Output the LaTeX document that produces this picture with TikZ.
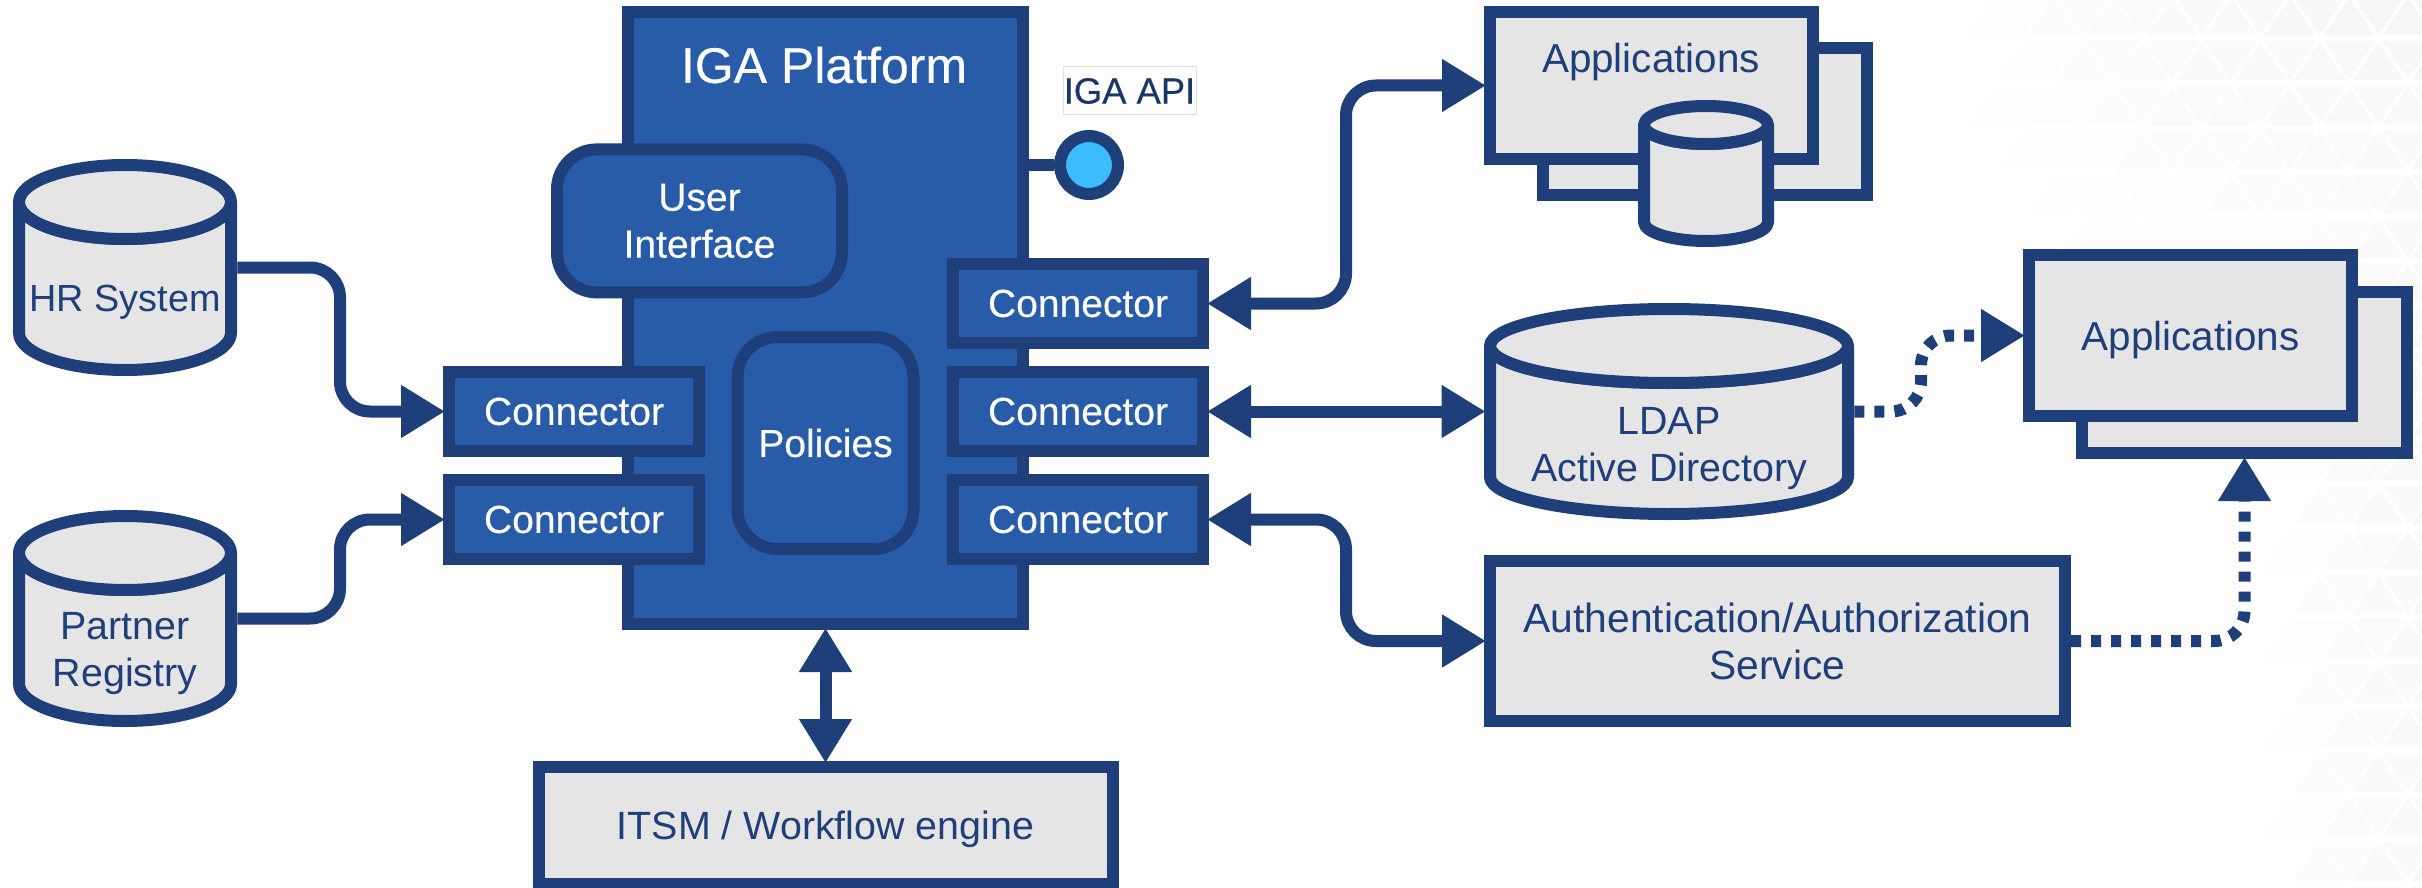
\documentclass[tikz,border=0pt]{standalone}
\usepackage{fontspec}
\setmainfont{Liberation Sans}
\newfontfamily\medfont[FakeBold=0.35]{Liberation Sans}
\usetikzlibrary{arrows.meta}
\definecolor{navy}{HTML}{1F3F7A}
\definecolor{royal}{HTML}{285CA8}
\definecolor{pale}{HTML}{E5E5E5}
\definecolor{sky}{HTML}{3DBBFF}
\newcommand{\txt}{\fontsize{19.7pt}{23.5pt}\selectfont}
\newcommand{\medtxt}{\medfont\fontsize{19.5pt}{23.5pt}\selectfont}
\tikzset{
  every node/.style={inner sep=0pt,align=center},
  greybox/.style={draw=navy,line width=6pt,fill=pale,text=navy,font=\txt},
  bluebox/.style={draw=navy,line width=6pt,fill=royal,text=white,font=\medtxt},
  connbox/.style={bluebox,minimum width=125pt,minimum height=39.5pt},
  softbox/.style={bluebox,rounded corners=20pt},
  link/.style={draw=navy,line width=6pt,rounded corners=15pt},
  tipto/.style={-{Triangle[length=22pt,width=25pt]},shorten >=-1pt},
  tipboth/.style={{Triangle[length=22pt,width=25pt]}-{Triangle[length=22pt,width=25pt]},shorten >=-1pt,shorten <=-1pt},
  dots/.style={dash pattern=on 5pt off 5pt},
  cylbody/.style={draw=navy,line width=6pt,fill=pale,line join=round},
  cyllabel/.style={text=navy,font=\txt}
}
% #1 name, #2 cx, #3 top y, #4 bottom y, #5 rx, #6 ry, #7 text y, #8 text
\newcommand{\cyl}[8]{%
  \draw[cylbody] (#2-#5,#3+#6) arc[start angle=180,end angle=360,x radius=#5*0.5pt,y radius=#6*0.5pt]
     -- (#2+#5,#4-#6) arc[start angle=0,end angle=-180,x radius=#5*0.5pt,y radius=#6*0.5pt] -- cycle;
  \draw[cylbody] (#2,#3+#6) ellipse[x radius=#5*0.5pt,y radius=#6*0.5pt];
  \node[minimum width=#5*1pt+6pt,minimum height=(#4-#3)*0.5pt+6pt] (#1) at (#2,#3*0.5+#4*0.5) {};
  \node[cyllabel] (#1t) at (#2,#7) {#8};
}
\begin{document}
\begin{tikzpicture}[x=0.5pt,y=-0.5pt]
\useasboundingbox (0,0) rectangle (2422,888);
\fill[white] (0,0) rectangle (2422,888);

% faint triangle texture of the background
\foreach \j in {0,...,20}{
  \pgfmathsetmacro\yy{-6.5+44.5*\j}
  \pgfmathsetmacro\off{mod(\j,2)*29.5}
  \foreach \i in {0,...,10}{
    \pgfmathsetmacro\ax{1877+59*\i+\off}
    \pgfmathsetmacro\lv{min(3.5,3.5*max((\ax-1900)/520*max(0,1-\yy/320),(\ax-2230)/190*0.7))}
    \ifdim\lv pt>0.4pt
      \fill[black!\lv!white] (\ax,\yy+4) -- (\ax+26,\yy+42) -- (\ax-26,\yy+42) -- cycle;
      \fill[black!\lv!white] (\ax+29.5,\yy+42) -- (\ax+3.5,\yy+3) -- (\ax+55.5,\yy+3) -- cycle;
    \fi
  }
}

% IGA platform
\node[bluebox,minimum width=197.5pt,minimum height=306pt] (iga) at (825.5,318) {};
\node[text=white,font=\medfont\fontsize{25pt}{30pt}\selectfont] (igat) at (824,65) {IGA Platform};
\node[bluebox,softbox,minimum width=142.5pt,minimum height=71.5pt,text width=130pt,yshift=-.7pt] (ui) at (699.5,219.5) {User\\Interface};
\node[bluebox,softbox,minimum width=88pt,minimum height=106pt] (pol) at (825.5,443) {Policies};
\node[connbox] (cl1) at (574,411.5) {Connector};
\node[connbox] (cl2) at (574,519.5) {Connector};
\node[connbox] (cr1) at (1078,303.5) {Connector};
\node[connbox] (cr2) at (1078,411.5) {Connector};
\node[connbox] (cr3) at (1078,519.5) {Connector};

% API
\node[draw=black!12,line width=.5pt,fill=white,text=navy!85!black,minimum width=66.5pt,minimum height=24pt,font=\medfont\fontsize{18.2pt}{22pt}\selectfont] (apit) at (1129.5,91) {IGA API};
\node[circle,draw=navy,line width=6pt,fill=sky,minimum size=29pt] (api) at (1089,165) {};
\draw[navy,line width=6pt] (iga.east |- api) -- (api.west);

% ITSM
\node[greybox,minimum width=287pt,minimum height=58.5pt,text depth=0pt] (itsm) at (825.5,825.5) {ITSM / Workflow engine};

% Left cylinders
\cyl{hr}{125}{165}{370}{106}{37}{302}{\fontsize{18.9pt}{23.5pt}\selectfont HR System}
\cyl{pr}{125}{516}{721}{106}{37}{654}{Partner\\Registry}

% Stacked applications, top
\node[greybox,minimum width=162pt,minimum height=73.5pt] (appB) at (1705,121.5) {};
\node[greybox,minimum width=161.5pt,minimum height=73.5pt] (appA) at (1651.5,85.5) {};
\node[text=navy,font=\fontsize{20.2pt}{24pt}\selectfont] (appAt) at (1651,62) {Applications};
\cyl{appc}{1706}{106}{241}{62}{19}{190}{}

% LDAP
\cyl{ldap}{1669}{309}{514}{179}{37}{449}{LDAP\\Active Directory}

% Stacked applications, right
\node[greybox,minimum width=162.5pt,minimum height=80.5pt] (appD) at (2244.5,372.5) {};
\node[greybox,minimum width=161.5pt,minimum height=80.5pt,text depth=0pt,font=\fontsize{20.2pt}{24pt}\selectfont] (appC) at (2190.5,335.5) {Applications};

% Auth
\node[greybox,minimum width=287.5pt,minimum height=80pt,font=\fontsize{20.4pt}{23.5pt}\selectfont] (auth) at (1777.5,641) {Authentication/Authorization\\Service};

% Connectors
\coordinate (busL) at (340,0);
\coordinate (busR) at (1346,0);
\coordinate (busD) at (1921,0);
\draw[link,tipto] (hr.east) -- (hr.east -| busL) -- (cl1.west -| busL) -- (cl1.west);
\draw[link,tipto] (pr.east) -- (pr.east -| busL) -- (cl2.west -| busL) -- (cl2.west);
\draw[link,tipboth] (cr1.east) -- (cr1.east -| busR) -- (appA.west -| busR) -- (appA.west);
\draw[link,tipboth] (cr2.east) -- (ldap.west);
\draw[link,tipboth] (cr3.east) -- (cr3.east -| busR) -- (auth.west -| busR) -- (auth.west);
\draw[link,tipboth] (iga.south) -- (itsm.north);
\draw[link,dots,tipto] (ldap.east) -- (ldap.east -| busD) -- (appC.west -| busD) -- (appC.west);
\draw[link,dots,tipto] (auth.east) -- (auth.east -| appD.south) -- (appD.south);
\end{tikzpicture}
\end{document}
